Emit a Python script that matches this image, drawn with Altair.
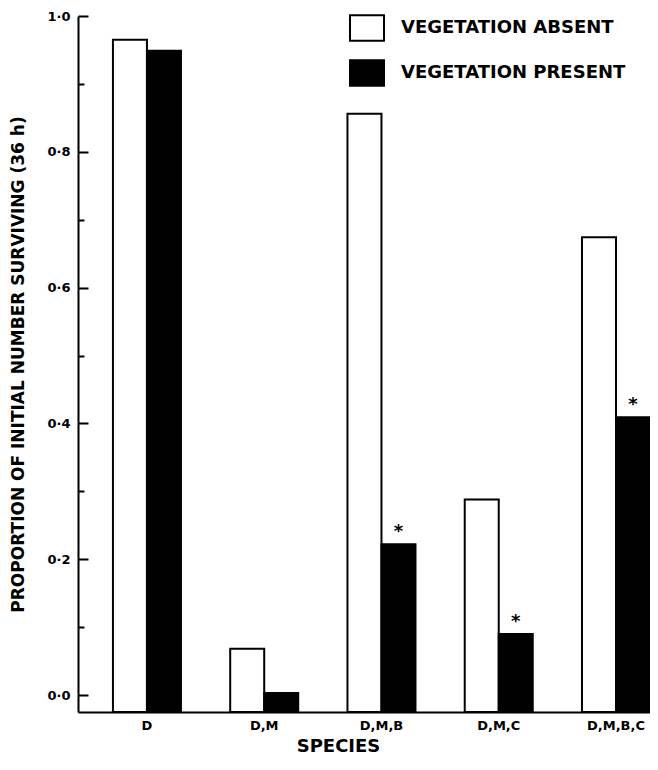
import altair as alt
import pandas as pd

species = ["D", "D,M", "D,M,B", "D,M,C", "D,M,B,C"]
absent = [0.965, 0.068, 0.856, 0.288, 0.674]
present = [0.949, 0.003, 0.222, 0.090, 0.409]
signif = ["", "", "*", "*", "*"]
groups = ["VEGETATION ABSENT", "VEGETATION PRESENT"]
major_ticks = [0.0, 0.2, 0.4, 0.6, 0.8, 1.0]
all_ticks = [0.0, 0.1, 0.2, 0.3, 0.4, 0.5, 0.6, 0.7, 0.8, 0.9, 1.0]
BASE = -0.025

rows = []
for s, a, p in zip(species, absent, present):
    rows.append({"species": s, "veg": groups[0], "value": a})
    rows.append({"species": s, "veg": groups[1], "value": p})
df = pd.DataFrame(rows)

star_df = pd.DataFrame({"species": species, "veg": groups[1], "value": present, "mark": signif})
star_df = star_df[star_df["mark"] != ""]

FONT = "DejaVu Sans"
W, H = 572, 696

xscale = alt.Scale(paddingInner=0.42, paddingOuter=0.149, align=1.0)
xoscale = alt.Scale(paddingInner=0, paddingOuter=0)
yscale = alt.Scale(domain=[BASE, 1.0], zero=False, nice=False)

x_axis = alt.Axis(
    title="SPECIES", labelAngle=0, ticks=False, tickSize=0,
    domainColor="black", domainWidth=2,
    labelFont=FONT, labelFontSize=13, labelFontWeight="bold", labelColor="black", labelPadding=7,
    titleFont=FONT, titleFontSize=18, titleFontWeight="bold", titleColor="black",
    titleX=260, titleY=39, titleBaseline="alphabetic",
)

y_axis_left = alt.Axis(
    orient="left",
    values=major_ticks,
    labelExpr="replace(format(datum.value, '.1f'), '.', '·')",
    ticks=False, tickSize=0, grid=False,
    domainColor="black", domainWidth=2,
    labelFont=FONT, labelFontSize=13, labelFontWeight="bold", labelColor="black", labelPadding=8,
    title="PROPORTION OF INITIAL NUMBER SURVIVING (36 h)",
    titleFont=FONT, titleFontSize=17, titleFontWeight="bold", titleColor="black",
    titlePadding=19,
)

y_axis_ticks = alt.Axis(
    orient="right", offset=-W, values=all_ticks, labels=False, domain=False,
    grid=False, title=None, tickColor="black", tickWidth=2,
    tickSize={"condition": {"test": "round(datum.value*10) % 2 == 1", "value": 6}, "value": 10},
)

bars = alt.Chart(df).mark_bar(stroke="black", strokeWidth=2).encode(
    x=alt.X("species:N", sort=species, scale=xscale, axis=x_axis),
    xOffset=alt.XOffset("veg:N", sort=groups, scale=xoscale),
    y=alt.Y("value:Q", scale=yscale, axis=y_axis_left),
    y2=alt.datum(BASE),
    fill=alt.Fill(
        "veg:N", sort=groups,
        scale=alt.Scale(domain=groups, range=["white", "black"]),
        legend=alt.Legend(
            title=None, orient="none", legendX=271, legendY=-6,
            symbolType="M-1,-0.75H1V0.75H-1Z", symbolSize=1156,
            symbolStrokeColor="black", symbolStrokeWidth=2, symbolOpacity=1,
            labelFont=FONT, labelFontSize=18, labelFontWeight="bold", labelColor="black",
            labelOffset=16, rowPadding=10, padding=0, labelLimit=400,
        ),
    ),
)

stars = alt.Chart(star_df).mark_text(
    font=FONT, fontSize=18, fontWeight="bold", color="black",
    baseline="alphabetic", dy=-7,
).encode(
    x=alt.X("species:N", sort=species),
    xOffset=alt.XOffset("veg:N", sort=groups),
    y=alt.Y("value:Q", axis=y_axis_ticks),
    text="mark:N",
)

chart = alt.layer(bars, stars).resolve_axis(y="independent").properties(
    width=W, height=H,
    padding={"left": 70, "top": 8, "right": 0, "bottom": 48},
    autosize=alt.AutoSizeParams(type="none"),
    background="white",
).configure_view(stroke=None)

chart.save("out.html", embed_options={"renderer": "svg", "actions": False})
